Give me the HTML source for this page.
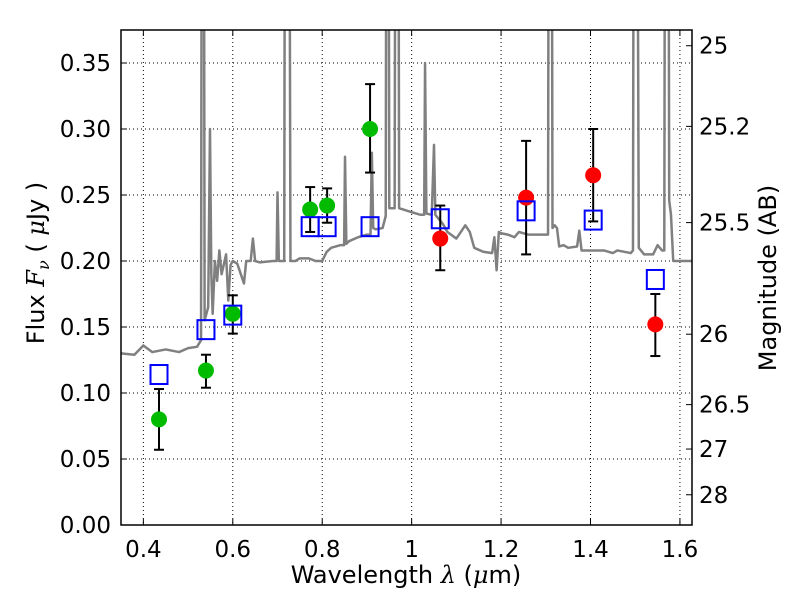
<!DOCTYPE html>
<html><head><meta charset="utf-8"><style>
body{margin:0;background:#fff;width:800px;height:600px;overflow:hidden}
svg text{font-family:"DejaVu Sans","Liberation Sans",sans-serif;fill:#000}
</style></head><body>
<svg id="chart" width="800" height="600" xmlns="http://www.w3.org/2000/svg">
<defs><clipPath id="clip"><rect x="121" y="30" width="571" height="495"/></clipPath></defs>
<rect x="0" y="0" width="800" height="600" fill="#fff"/>
<g id="grid"></g>
<g id="spec" clip-path="url(#clip)"></g>
<g id="marks" clip-path="url(#clip)"></g>
<rect x="121" y="30" width="571" height="495" fill="none" stroke="#000" stroke-width="1.5"/>
<g id="axes"></g>
<text x="44" y="263" font-size="24" text-anchor="middle" transform="rotate(-90 44 263)">Flux  <tspan font-style="italic" font-family="DejaVu Serif">F</tspan><tspan font-size="16" dy="5" font-style="italic" font-family="DejaVu Serif">ν</tspan><tspan dy="-5">  ( </tspan><tspan font-style="italic" font-family="DejaVu Serif">μ</tspan>Jy )</text>
<text x="406" y="583" font-size="24" text-anchor="middle">Wavelength  <tspan font-style="italic" font-family="DejaVu Serif">λ</tspan> (<tspan font-style="italic" font-family="DejaVu Serif">μ</tspan>m)</text>
<text x="776" y="278" font-size="24" text-anchor="middle" transform="rotate(-90 776 278)">Magnitude (AB)</text>
</svg>
<script>
const xTicks=[0.4,0.6,0.8,1.0,1.2,1.4,1.6];
const xTickLabels=["0.4","0.6","0.8","1","1.2","1.4","1.6"];
const yTicks=[0,0.05,0.10,0.15,0.20,0.25,0.30,0.35];
const yTickLabels=["0.00","0.05","0.10","0.15","0.20","0.25","0.30","0.35"];
const magTicks=[25,25.2,25.5,26,26.5,27,28];
const magTickLabels=["25","25.2","25.5","26","26.5","27","28"];
const specWave=[
0.35,0.38,0.40,0.42,0.45,0.48,0.50,0.52,
0.529,0.531,0.535,0.537,0.545,0.549,0.552,0.555,
0.56,0.565,0.57,0.575,0.585,0.59,0.595,0.60,
0.61,0.625,0.63,0.64,0.645,0.65,0.66,0.69,
0.698,0.70,0.703,0.715,0.717,0.726,0.729,0.74,
0.75,0.77,0.785,0.80,0.81,0.82,0.84,0.849,
0.851,0.854,0.86,0.88,0.90,0.908,0.911,0.914,
0.92,0.935,0.942,0.944,0.948,0.950,0.962,0.964,
0.970,0.972,1.0,1.02,1.028,1.030,1.033,1.045,
1.050,1.053,1.07,1.08,1.10,1.12,1.13,1.14,
1.16,1.18,1.185,1.19,1.195,1.20,1.215,1.23,
1.24,1.26,1.30,1.305,1.307,1.313,1.315,1.32,
1.325,1.33,1.34,1.35,1.37,1.375,1.38,1.40,
1.43,1.45,1.46,1.49,1.495,1.497,1.504,1.508,
1.52,1.54,1.55,1.56,1.565,1.567,1.574,1.576,
1.58,1.585,1.60,1.627];
const specFlux=[
0.130,0.129,0.136,0.131,0.133,0.131,0.134,0.135,
0.140,0.6,0.6,0.155,0.165,0.300,0.190,0.160,
0.200,0.185,0.208,0.190,0.205,0.170,0.197,0.200,
0.198,0.183,0.200,0.200,0.217,0.200,0.199,0.200,
0.200,0.252,0.200,0.200,0.6,0.6,0.200,0.200,
0.202,0.202,0.200,0.200,0.207,0.210,0.212,0.212,
0.279,0.213,0.215,0.218,0.220,0.220,0.282,0.225,
0.224,0.225,0.234,0.6,0.6,0.240,0.240,0.6,
0.6,0.240,0.237,0.235,0.235,0.350,0.236,0.235,
0.288,0.235,0.228,0.222,0.217,0.227,0.222,0.210,
0.207,0.206,0.218,0.193,0.222,0.221,0.220,0.218,
0.222,0.220,0.220,0.220,0.6,0.6,0.225,0.227,
0.225,0.211,0.212,0.210,0.211,0.223,0.208,0.208,
0.208,0.206,0.208,0.206,0.208,0.6,0.6,0.210,
0.205,0.205,0.212,0.208,0.208,0.6,0.6,0.246,
0.235,0.200,0.200,0.200];
const greenWave=[0.435,0.54,0.60,0.773,0.811,0.907];
const greenFlux=[0.080,0.117,0.160,0.239,0.242,0.300];
const greenLo=[0.057,0.104,0.145,0.222,0.229,0.267];
const greenHi=[0.103,0.129,0.174,0.256,0.255,0.334];
const redWave=[1.064,1.256,1.406,1.545];
const redFlux=[0.217,0.248,0.265,0.152];
const redLo=[0.193,0.205,0.230,0.128];
const redHi=[0.242,0.291,0.300,0.175];
const modelWave=[0.435,0.54,0.60,0.773,0.811,0.907,1.064,1.256,1.406,1.545];
const modelFlux=[0.114,0.148,0.159,0.226,0.226,0.226,0.232,0.238,0.231,0.186];

const NS="http://www.w3.org/2000/svg";
const X0=121,X1=692,Y0=525,Y1=30,XMIN=0.35,XMAX=1.627,YMAX=0.375;
const sx=v=>X0+(v-XMIN)/(XMAX-XMIN)*(X1-X0);
const sy=v=>Y0-v/YMAX*(Y0-Y1);
const mag2y=m=>sy(Math.pow(10,(23.9-m)/2.5));
function mk(tag,attrs,parent){const e=document.createElementNS(NS,tag);for(const k in attrs)e.setAttribute(k,attrs[k]);parent.appendChild(e);return e;}
const grid=document.getElementById('grid'),axes=document.getElementById('axes'),spec=document.getElementById('spec'),marks=document.getElementById('marks');
xTicks.forEach((t,i)=>{const x=sx(t);
 const g=mk('line',{x1:x,x2:x,y1:Y1,y2:Y0,stroke:'#000','stroke-width':1,'stroke-dasharray':'1,3'},grid);
 
 
 mk('line',{x1:x,x2:x,y1:Y0,y2:Y0-6,stroke:'#000'},axes);
 mk('line',{x1:x,x2:x,y1:Y1,y2:Y1+6,stroke:'#000'},axes);
 const tx=mk('text',{x:x,y:557,'font-size':23,'text-anchor':'middle'},axes);tx.textContent=xTickLabels[i];
 
 });
yTicks.forEach((t,i)=>{const y=sy(t);
 const g=mk('line',{x1:X0,x2:X1,y1:y,y2:y,stroke:'#000','stroke-width':1,'stroke-dasharray':'1,3'},grid);
 
 
 mk('line',{x1:X0,x2:X0+6,y1:y,y2:y,stroke:'#000'},axes);
 const tx=mk('text',{x:111,y:y+8,'font-size':23,'text-anchor':'end'},axes);tx.textContent=yTickLabels[i];
 
 });
magTicks.forEach((m,i)=>{const y=mag2y(m);
 mk('line',{x1:X1,x2:X1-6,y1:y,y2:y,stroke:'#000'},axes);
 const tx=mk('text',{x:699,y:y+8,'font-size':23},axes);tx.textContent=magTickLabels[i];
 
 });
const pl=mk('polyline',{points:specWave.map((w,i)=>sx(w)+','+sy(specFlux[i])).join(' '),fill:'none',stroke:'#808080','stroke-width':2.5,'stroke-linejoin':'round'},spec);


function err(w,lo,hi){const x=sx(w);
 mk('line',{x1:x,x2:x,y1:sy(lo),y2:sy(hi),stroke:'#000','stroke-width':2},marks);
 mk('line',{x1:x-5,x2:x+5,y1:sy(lo),y2:sy(lo),stroke:'#000','stroke-width':2},marks);
 mk('line',{x1:x-5,x2:x+5,y1:sy(hi),y2:sy(hi),stroke:'#000','stroke-width':2},marks);}
greenWave.forEach((w,i)=>{err(w,greenLo[i],greenHi[i]);
 const c=mk('circle',{cx:sx(w),cy:sy(greenFlux[i]),r:8,fill:'#00bb00'},marks);
 
 });
redWave.forEach((w,i)=>{err(w,redLo[i],redHi[i]);
 const c=mk('circle',{cx:sx(w),cy:sy(redFlux[i]),r:8,fill:'#ff0000'},marks);
 
 });
modelWave.forEach((w,i)=>{
 const r=mk('rect',{x:sx(w)-8.5,y:sy(modelFlux[i])-9.5,width:17,height:19,fill:'none',stroke:'#0000ff','stroke-width':2},marks);
 
 });
</script>
</body></html>
